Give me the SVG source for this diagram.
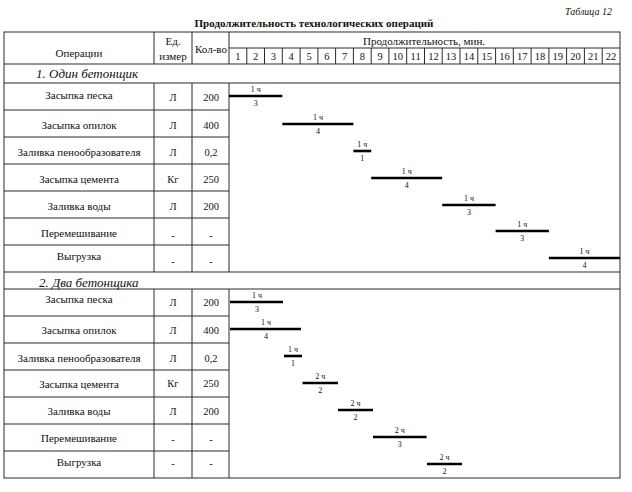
<svg xmlns="http://www.w3.org/2000/svg" width="632" height="492" viewBox="0 0 632 492">
<style>
.bg{fill:#ffffff}
.ln{stroke:#2a2a2a;stroke-width:1;fill:none}
.bar{stroke:#000;stroke-width:2.6}
.t{font-family:"Liberation Serif","Times New Roman",serif;font-size:11px;fill:#111;text-anchor:middle}
.n{font-family:"Liberation Serif","Times New Roman",serif;font-size:10.5px;fill:#111;text-anchor:middle}
.s{font-family:"Liberation Serif","Times New Roman",serif;font-size:8px;fill:#111;text-anchor:middle}
.sec{font-family:"Liberation Serif","Times New Roman",serif;font-size:13px;font-style:italic;fill:#111}
.title{font-family:"Liberation Serif","Times New Roman",serif;font-size:11px;font-weight:bold;fill:#111;text-anchor:middle}
.tab{font-family:"Liberation Serif","Times New Roman",serif;font-size:10px;font-style:italic;fill:#111;text-anchor:end}
</style>
<rect class="bg" x="0" y="0" width="632" height="492"/>
<text class="tab" x="612" y="15">Таблица 12</text>
<text class="title" x="314" y="27">Продолжительность технологических операций</text>

<g id="table-grid">
<rect class="ln" x="4" y="32" width="616" height="446"/>
<path class="ln" d="M229 48H620M4 64H620M4 83H620M4 272H620M4 289H620"/>
<path class="ln" d="M154 32V64M192 32V64M229 32V64M154 83V272M192 83V272M229 83V272M154 289V478M192 289V478M229 289V478"/>
<path class="ln" d="M4 110H229M4 137H229M4 164H229M4 191H229M4 218H229M4 245H229"/>
<path class="ln" d="M4 316H229M4 343H229M4 370H229M4 397H229M4 424H229M4 451H229"/>
<path class="ln" d="M246.8 48V64M264.5 48V64M282.3 48V64M300.1 48V64M317.9 48V64M335.6 48V64M353.4 48V64M371.2 48V64M388.9 48V64M406.7 48V64M424.5 48V64M442.2 48V64M460 48V64M477.8 48V64M495.6 48V64M513.3 48V64M531.1 48V64M548.9 48V64M566.6 48V64M584.4 48V64M602.2 48V64"/>
</g>

<g id="header">
<text class="t" x="79" y="57">Операции</text>
<text class="t" x="173" y="45">Ед.</text>
<text class="t" x="173" y="60">измер</text>
<text class="t" x="211" y="53">Кол-во</text>
<text class="t" x="424" y="45">Продолжительность, мин.</text>
<g class="n">
<text x="237.9" y="60">1</text><text x="255.7" y="60">2</text><text x="273.4" y="60">3</text><text x="291.2" y="60">4</text><text x="309" y="60">5</text><text x="326.8" y="60">6</text><text x="344.5" y="60">7</text><text x="362.3" y="60">8</text><text x="380.1" y="60">9</text><text x="397.8" y="60">10</text><text x="415.6" y="60">11</text><text x="433.4" y="60">12</text><text x="451.1" y="60">13</text><text x="468.9" y="60">14</text><text x="486.7" y="60">15</text><text x="504.5" y="60">16</text><text x="522.2" y="60">17</text><text x="540" y="60">18</text><text x="557.8" y="60">19</text><text x="575.5" y="60">20</text><text x="593.3" y="60">21</text><text x="611.1" y="60">22</text>
</g>
</g>

<g id="section-1">
<text class="sec" x="36" y="78">1. Один бетонщик</text>
<g id="s1-r1"><text class="t" x="79" y="99">Засыпка песка</text><text class="n" x="173" y="101">Л</text><text class="n" x="211" y="101">200</text></g>
<g id="s1-r2"><text class="t" x="79" y="129">Засыпка опилок</text><text class="n" x="173" y="129">Л</text><text class="n" x="211" y="129">400</text></g>
<g id="s1-r3"><text class="t" x="79" y="156">Заливка пенообразователя</text><text class="n" x="173" y="156">Л</text><text class="n" x="211" y="156">0,2</text></g>
<g id="s1-r4"><text class="t" x="79" y="183">Засыпка цемента</text><text class="n" x="173" y="183">Кг</text><text class="n" x="211" y="183">250</text></g>
<g id="s1-r5"><text class="t" x="79" y="210">Заливка воды</text><text class="n" x="173" y="210">Л</text><text class="n" x="211" y="210">200</text></g>
<g id="s1-r6"><text class="t" x="79" y="237">Перемешивание</text><text class="n" x="173" y="239">-</text><text class="n" x="211" y="239">-</text></g>
<g id="s1-r7"><text class="t" x="79" y="260">Выгрузка</text><text class="n" x="173" y="265">-</text><text class="n" x="211" y="265">-</text></g>
</g>

<g id="section-2">
<text class="sec" x="39" y="287">2. Два бетонщика</text>
<g id="s2-r1"><text class="t" x="79" y="303">Засыпка песка</text><text class="n" x="173" y="306">Л</text><text class="n" x="211" y="306">200</text></g>
<g id="s2-r2"><text class="t" x="79" y="334">Засыпка опилок</text><text class="n" x="173" y="334">Л</text><text class="n" x="211" y="334">400</text></g>
<g id="s2-r3"><text class="t" x="79" y="362">Заливка пенообразователя</text><text class="n" x="173" y="362">Л</text><text class="n" x="211" y="362">0,2</text></g>
<g id="s2-r4"><text class="t" x="79" y="388">Засыпка цемента</text><text class="n" x="173" y="387">Кг</text><text class="n" x="211" y="387">250</text></g>
<g id="s2-r5"><text class="t" x="79" y="415">Заливка воды</text><text class="n" x="173" y="415">Л</text><text class="n" x="211" y="415">200</text></g>
<g id="s2-r6"><text class="t" x="79" y="442">Перемешивание</text><text class="n" x="173" y="443">-</text><text class="n" x="211" y="443">-</text></g>
<g id="s2-r7"><text class="t" x="79" y="466">Выгрузка</text><text class="n" x="173" y="467">-</text><text class="n" x="211" y="467">-</text></g>
</g>

<g id="bars">
<g id="b1-1"><line class="bar" x1="229" y1="96" x2="282.3" y2="96"/><text class="s" x="255.7" y="92">1 ч</text><text class="s" x="255.7" y="106">3</text></g>
<g id="b1-2"><line class="bar" x1="282.3" y1="124" x2="353.4" y2="124"/><text class="s" x="317.9" y="120">1 ч</text><text class="s" x="317.9" y="134">4</text></g>
<g id="b1-3"><line class="bar" x1="353.4" y1="151" x2="371.2" y2="151"/><text class="s" x="362.3" y="147">1 ч</text><text class="s" x="362.3" y="161">1</text></g>
<g id="b1-4"><line class="bar" x1="371.2" y1="178" x2="442.2" y2="178"/><text class="s" x="406.7" y="174">1 ч</text><text class="s" x="406.7" y="188">4</text></g>
<g id="b1-5"><line class="bar" x1="442.2" y1="205" x2="495.6" y2="205"/><text class="s" x="468.9" y="201">1 ч</text><text class="s" x="468.9" y="215">3</text></g>
<g id="b1-6"><line class="bar" x1="495.6" y1="231" x2="548.9" y2="231"/><text class="s" x="522.2" y="227">1 ч</text><text class="s" x="522.2" y="241">3</text></g>
<g id="b1-7"><line class="bar" x1="548.9" y1="258" x2="620" y2="258"/><text class="s" x="584.4" y="254">1 ч</text><text class="s" x="584.4" y="268">4</text></g>

<g id="b2-1"><line class="bar" x1="230" y1="302" x2="283" y2="302"/><text class="s" x="257" y="298">1 ч</text><text class="s" x="257" y="312">3</text></g>
<g id="b2-2"><line class="bar" x1="230" y1="329" x2="301" y2="329"/><text class="s" x="266" y="325">1 ч</text><text class="s" x="266" y="339">4</text></g>
<g id="b2-3"><line class="bar" x1="284" y1="356" x2="302" y2="356"/><text class="s" x="293" y="352">1 ч</text><text class="s" x="293" y="366">1</text></g>
<g id="b2-4"><line class="bar" x1="302.5" y1="383" x2="338" y2="383"/><text class="s" x="320.2" y="379">2 ч</text><text class="s" x="320.2" y="393">2</text></g>
<g id="b2-5"><line class="bar" x1="338" y1="410" x2="373" y2="410"/><text class="s" x="355.5" y="406">2 ч</text><text class="s" x="355.5" y="420">2</text></g>
<g id="b2-6"><line class="bar" x1="373" y1="437" x2="426.5" y2="437"/><text class="s" x="399.7" y="433">2 ч</text><text class="s" x="399.7" y="447">3</text></g>
<g id="b2-7"><line class="bar" x1="427" y1="464" x2="462" y2="464"/><text class="s" x="444.5" y="460">2 ч</text><text class="s" x="444.5" y="474">2</text></g>
</g>
</svg>
